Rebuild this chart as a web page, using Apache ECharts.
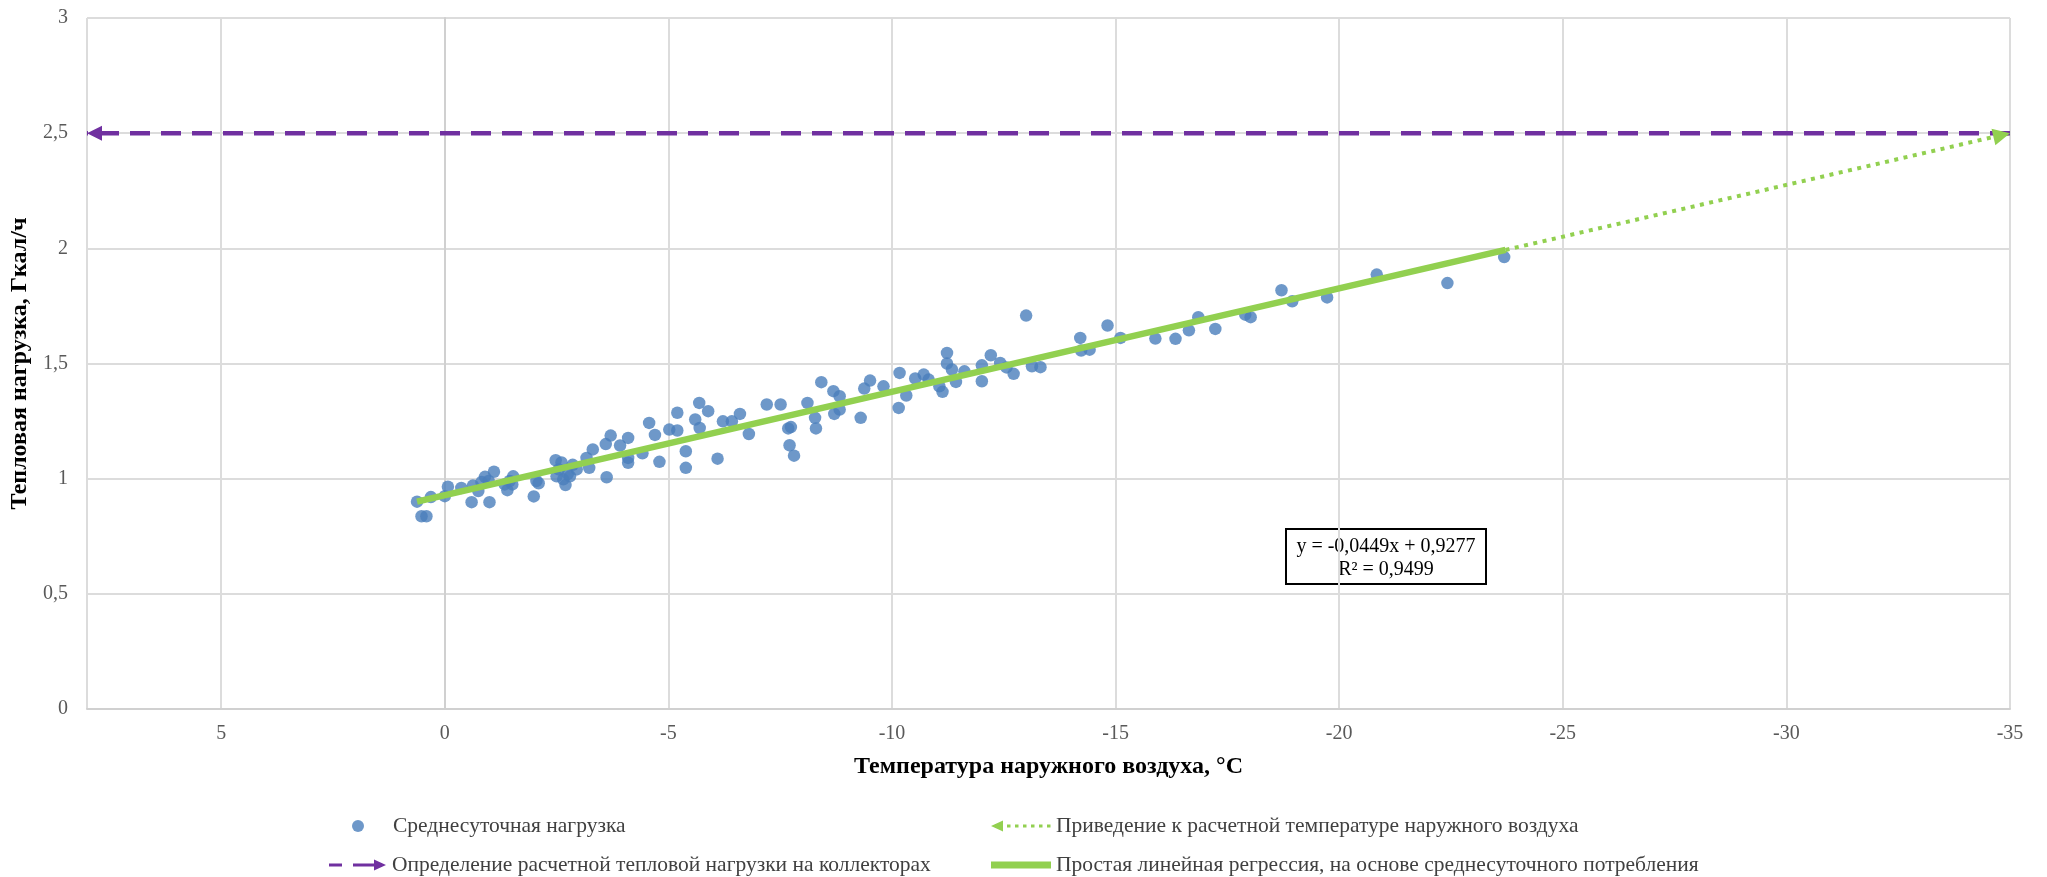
<!DOCTYPE html>
<html>
<head>
<meta charset="utf-8">
<script src="https://cdn.jsdelivr.net/npm/echarts@6/dist/echarts.min.js"></script>
<style>
html,body{margin:0;padding:0;background:#fff;}
#chart{width:2047px;height:877px;}
</style>
</head>
<body>
<div id="chart"></div>
<script>
// ---- data ----
const temps = [0.62,0.52,0.41,0.31,0.0,-0.07,-0.37,-0.60,-0.63,-0.75,-0.9,-1.0,-1.1,-0.98,-1.34,-1.40,-1.53,-1.51,-1.99,-2.05,-2.1,-2.48,-2.5,-2.61,-2.65,-2.70,-2.75,-2.86,-2.95,-3.17,-3.23,-3.31,-3.62,-3.6,-3.71,-3.92,-4.10,-4.10,-4.1,-4.42,-4.57,
  -2.55,-2.8,-0.82,-1.45,
  -4.7,-4.8,-5.02,-5.2,-5.2,-5.39,-5.39,-5.6,-5.69,-5.7,-5.89,-6.1,-6.22,-6.42,-6.6,-6.8,-7.2,-7.51,-7.68,-7.74,-7.71,-7.81,-8.11,-8.28,-8.3,-8.42,-8.69,-8.83,-8.71,-8.83,-9.3,-9.38,-9.51,-9.81,-10.15,-10.17,
  -10.32,-10.52,-10.71,-10.82,-11.06,-11.13,-11.23,-11.23,-11.34,-11.43,-11.62,-12.01,-12.01,-12.21,-12.42,-12.56,-12.72,-13.0,-13.13,-13.32,-14.21,-14.23,-14.42,-14.82,-15.11,-15.89,
  -16.34,-16.64,-16.85,-17.23,-17.9,-18.02,-18.71,-18.95,-19.73,-20.84,-22.42,-23.69];
const loads = [0.90,0.837,0.837,0.92,0.924,0.965,0.96,0.898,0.97,0.946,1.008,0.898,1.03,0.99,0.975,0.95,1.01,0.975,0.923,0.99,0.98,1.08,1.01,1.07,0.997,0.972,1.02,1.06,1.04,1.09,1.047,1.127,1.006,1.15,1.187,1.144,1.177,1.069,1.09,1.11,1.242,
  1.04,1.01,0.985,0.99,
  1.19,1.073,1.213,1.286,1.209,1.119,1.047,1.257,1.329,1.22,1.293,1.087,1.249,1.249,1.281,1.194,1.322,1.322,1.218,1.224,1.145,1.10,1.329,1.264,1.218,1.419,1.38,1.358,1.281,1.30,1.264,1.391,1.426,1.401,1.307,1.459,
  1.361,1.435,1.452,1.43,1.401,1.377,1.546,1.5,1.474,1.42,1.466,1.492,1.423,1.536,1.502,1.483,1.455,1.708,1.488,1.484,1.611,1.556,1.56,1.665,1.611,1.608,
  1.607,1.644,1.701,1.65,1.712,1.701,1.818,1.77,1.787,1.886,1.849,1.962];

const trendX = [0.62, -23.72];      // regression segment
const trendY = [0.900, 1.993];
const extX = [-23.72, -35];         // extrapolation to design temperature
const extY = [1.993, 2.5];
const designX = [-35, 8];           // design load line
const designY = [2.5, 2.5];

const yTicks = ['0','0,5','1','1,5','2','2,5','3'];

const names = {
  pts: 'Среднесуточная нагрузка',
  ext: 'Приведение к расчетной температуре наружного воздуха',
  design: 'Определение расчетной тепловой нагрузки на коллекторах',
  trend: 'Простая линейная регрессия, на основе среднесуточного потребления'
};
const eqText = 'y = -0,0449x + 0,9277\nR² = 0,9499';

// ---- chart ----
const FONT = '"Liberation Serif", "Times New Roman", serif';
const BLUE = '#4A7EBB', GREEN = '#92D050', PURPLE = '#7030A0';
const chart = echarts.init(document.getElementById('chart'));

// arrowhead with its tip at the symbol centre, pointing up
const tri = 'path://M0,-14L0.01,-14L0,-13.99Z M0,0L7,14L-7,14Z';

const iconPurple = 'path://M0,0L0.01,0L0,0.01Z M60,12L59.99,12L60,11.99Z M2,4.5L15,4.5L15,7.5L2,7.5Z M26,4.5L47,4.5L47,0.5L59,6L47,11.5L47,7.5L26,7.5Z';
const iconGreenDot = 'path://M0,0L0.01,0L0,0.01Z M60,12L59.99,12L60,11.99Z M0,6L12,0.5L12,11.5Z M16,4.5L19.5,4.5L19.5,7.5L16,7.5Z M24,4.5L27.5,4.5L27.5,7.5L24,7.5Z M32,4.5L35.5,4.5L35.5,7.5L32,7.5Z M40,4.5L43.5,4.5L43.5,7.5L40,7.5Z M48,4.5L51.5,4.5L51.5,7.5L48,7.5Z M56,4.5L59.5,4.5L59.5,7.5L56,7.5Z';
const iconGreenLine = 'path://M0,0L0.01,0L0,0.01Z M60,12L59.99,12L60,11.99Z M0,2.5L60,2.5L60,9.5L0,9.5Z';

function legendItem(name, icon, left, top) {
  return {
    orient: 'horizontal', left: left, top: top, padding: 0, itemWidth: 60, itemHeight: 12,
    selectedMode: false, textStyle: { fontFamily: FONT, fontSize: 21.5, color: '#404040' },
    data: [{ name: name, icon: icon }]
  };
}

function buildOption(extRot) {
  return {
    backgroundColor: '#ffffff',
    animation: false,
    grid: { left: 87, right: 37, top: 18, bottom: 168, containLabel: false },
    xAxis: {
      type: 'value', min: -35, max: 8, interval: 5, inverse: true,
      name: 'Температура наружного воздуха, °С', nameLocation: 'middle', nameGap: 46,
      nameTextStyle: { fontFamily: FONT, fontWeight: 'bold', fontSize: 24, color: '#000' },
      axisLine: { show: true, lineStyle: { color: '#d0d0d0', width: 2 } },
      axisTick: { show: false },
      axisLabel: { fontFamily: FONT, fontSize: 20, color: '#595959', margin: 15,
        formatter: v => (v === 8 ? '' : String(v)) },
      splitLine: { show: true, lineStyle: { color: '#dcdcdc', width: 2 } }
    },
    yAxis: {
      type: 'value', min: 0, max: 3, interval: 0.5,
      name: 'Тепловая нагрузка, Гкал/ч', nameLocation: 'middle', nameGap: 52,
      nameTextStyle: { fontFamily: FONT, fontWeight: 'bold', fontSize: 24, color: '#000' },
      axisLine: { show: true, lineStyle: { color: '#d0d0d0', width: 2 } },
      axisTick: { show: false },
      axisLabel: { fontFamily: FONT, fontSize: 20, color: '#595959', margin: 19,
        formatter: (v) => yTicks[Math.round(v * 2)] },
      splitLine: { show: true, lineStyle: { color: '#dcdcdc', width: 2 } }
    },
    legend: [
      legendItem(names.pts, 'circle', 352, 815),
      legendItem(names.design, iconPurple, 327, 854),
      legendItem(names.ext, iconGreenDot, 991, 815),
      legendItem(names.trend, iconGreenLine, 991, 854)
    ],
    series: [
      {
        name: names.pts, type: 'scatter', color: BLUE, symbol: 'circle', symbolSize: 12.5, z: 2,
        itemStyle: { color: BLUE },
        data: temps.map((t, i) => [t, loads[i]])
      },
      {
        name: names.trend, type: 'line', color: GREEN, showSymbol: false, symbol: 'none', z: 3,
        lineStyle: { color: GREEN, width: 6.5 },
        data: trendX.map((t, i) => [t, trendY[i]])
      },
      {
        name: names.ext, type: 'line', color: GREEN, z: 3,
        lineStyle: { color: GREEN, width: 4, type: [4, 5.5] },
        itemStyle: { color: GREEN },
        data: [
          { value: [extX[0], extY[0]], symbol: 'none' },
          { value: [extX[1], extY[1]], symbol: tri, symbolSize: [17, 34], symbolRotate: extRot }
        ]
      },
      {
        name: names.design, type: 'line', color: PURPLE, z: 3,
        lineStyle: { color: PURPLE, width: 4.5, type: [20, 11] },
        itemStyle: { color: PURPLE },
        data: [
          { value: [designX[0], designY[0]], symbol: 'none' },
          { value: [designX[1], designY[1]], symbol: tri, symbolSize: [15, 30], symbolRotate: 90 }
        ]
      }
    ],
    graphic: [
      { type: 'group', left: 1285, top: 528, z: 10, children: [
        { type: 'rect', shape: { x: 0, y: 0, width: 200, height: 55 },
          style: { fill: 'rgba(0,0,0,0)', stroke: '#000', lineWidth: 2 } },
        { type: 'text', x: 100, y: 6,
          style: { text: eqText, align: 'center', verticalAlign: 'top', fill: '#000',
            font: '20px ' + FONT, lineHeight: 23 } }
      ] }
    ]
  };
}

chart.setOption(buildOption(0));
const pA = chart.convertToPixel({ gridIndex: 0 }, [extX[0], extY[0]]);
const pB = chart.convertToPixel({ gridIndex: 0 }, [extX[1], extY[1]]);
const ang = Math.atan2(pB[0] - pA[0], -(pB[1] - pA[1])) * 180 / Math.PI;
chart.setOption(buildOption(-ang));
</script>
</body>
</html>
